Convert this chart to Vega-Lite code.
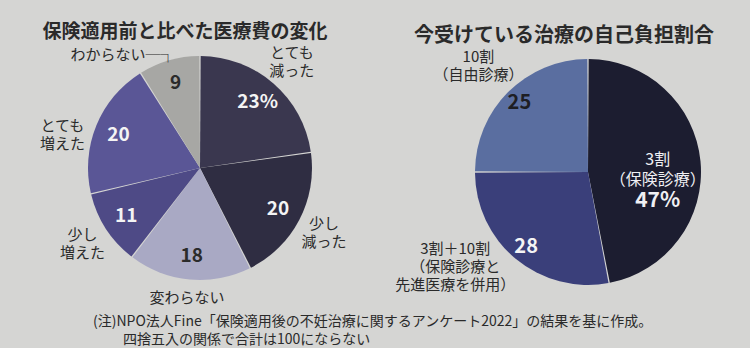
{
  "$schema": "https://vega.github.io/schema/vega-lite/v6.json",
  "background": "#d5d5d3",
  "padding": {"top": 13, "left": 0, "right": 0, "bottom": 0},
  "bounds": "flush",
  "spacing": 26,
  "config": {"view": {"stroke": null}, "font": "Noto Sans CJK JP", "text": {"font": "Noto Sans CJK JP"}},
  "resolve": {"scale": {"color": "independent", "theta": "independent"}},
  "title": {
    "text": ["(注)NPO法人Fine「保険適用後の不妊治療に関するアンケート2022」の結果を基に作成。", "\u2800\u2800\u2800四捨五入の関係で合計は100にならない"],
    "orient": "bottom", "anchor": "start", "dx": 93, "offset": -11,
    "fontSize": 14, "fontWeight": "normal", "color": "#2a2a2a", "lineHeight": 18, "font": "Noto Sans CJK JP"
  },
  "hconcat": [
    {
      "width": 400,
      "height": 220,
      "title": {"text": "保険適用前と比べた医療費の変化", "fontSize": 19, "fontWeight": "bold", "color": "#2a2a2a", "offset": -25, "dx": -15, "font": "Noto Sans CJK JP"},
      "data": {"values": [
        {"cat": "とても減った", "label": "とても\n減った", "v": 23, "i": 1, "num": "23%"},
        {"cat": "少し減った", "label": "少し\n減った", "v": 20, "i": 2, "num": "20"},
        {"cat": "変わらない", "label": "変わらない", "v": 18, "i": 3, "num": "18"},
        {"cat": "少し増えた", "label": "少し\n増えた", "v": 11, "i": 4, "num": "11"},
        {"cat": "とても増えた", "label": "とても\n増えた", "v": 20, "i": 5, "num": "20"},
        {"cat": "わからない", "label": "わからない", "v": 9, "i": 6, "num": "9"}
      ]},
      "encoding": {
        "theta": {"field": "v", "type": "quantitative", "stack": true},
        "order": {"field": "i", "type": "quantitative"}
      },
      "layer": [
        {
          "mark": {"type": "arc", "outerRadius": 112, "padAngle": 0.012},
          "encoding": {
            "color": {"field": "cat", "type": "nominal", "legend": null,
              "scale": {"domain": ["とても減った", "少し減った", "変わらない", "少し増えた", "とても増えた", "わからない"],
                        "range": ["#3a374f", "#2f2d42", "#a9a9c4", "#4e4a86", "#5a5696", "#a7a7a4"]}}
          }
        },
        {
          "mark": {"type": "text", "radius": 88, "fontSize": 19, "fontWeight": "bold"},
          "encoding": {
            "text": {"field": "num", "type": "nominal"},
            "color": {"condition": {"test": "datum.cat === '変わらない' || datum.cat === 'わからない'", "value": "#2b2b2b"}, "value": "#f4f4f4"}
          }
        },
        {
          "mark": {"type": "text", "radius": 140, "dy": -9, "fontSize": 15, "lineBreak": "\n", "lineHeight": 18, "color": "#2a2a2a"},
          "encoding": {
            "text": {"condition": {"test": "datum.cat !== 'わからない' && datum.cat !== 'とても増えた'", "field": "label", "type": "nominal"}, "value": ""}
          }
        },
        {
          "mark": {"type": "text", "radius": 140, "dx": -8, "dy": 11, "fontSize": 15, "lineBreak": "\n", "lineHeight": 18, "color": "#2a2a2a"},
          "encoding": {
            "text": {"condition": {"test": "datum.cat === 'とても増えた'", "field": "label", "type": "nominal"}, "value": ""}
          }
        },
        {
          "mark": {"type": "text", "radius": 118, "fontSize": 15, "align": "right", "dx": 8, "color": "#2a2a2a"},
          "encoding": {
            "text": {"condition": {"test": "datum.cat === 'わからない'", "value": "わからない─┐"}, "value": ""}
          }
        }
      ]
    },
    {
      "width": 324,
      "height": 228,
      "title": {"text": "今受けている治療の自己負担割合", "fontSize": 20, "fontWeight": "bold", "color": "#2a2a2a", "offset": -33, "dx": -24, "font": "Noto Sans CJK JP"},
      "data": {"values": [
        {"cat": "3割", "label": "3割\n（保険診療）", "v": 47, "i": 1, "num": "47%"},
        {"cat": "3割+10割", "label": "3割＋10割\n（保険診療と\n先進医療を併用）", "v": 28, "i": 2, "num": "28"},
        {"cat": "10割", "label": "10割\n（自由診療）", "v": 25, "i": 3, "num": "25"}
      ]},
      "encoding": {
        "theta": {"field": "v", "type": "quantitative", "stack": true},
        "order": {"field": "i", "type": "quantitative"}
      },
      "layer": [
        {
          "mark": {"type": "arc", "outerRadius": 113, "padAngle": 0.012},
          "encoding": {
            "color": {"field": "cat", "type": "nominal", "legend": null,
              "scale": {"domain": ["3割", "3割+10割", "10割"], "range": ["#1c1d30", "#3a3f7a", "#5a6ea0"]}}
          }
        },
        {
          "mark": {"type": "text", "radius": 97, "fontSize": 20, "fontWeight": "bold"},
          "encoding": {
            "text": {"condition": {"test": "datum.cat !== '3割'", "field": "num", "type": "nominal"}, "value": ""},
            "color": {"condition": {"test": "datum.cat === '10割'", "value": "#1e1e24"}, "value": "#f4f4f4"}
          }
        },
        {
          "mark": {"type": "text", "radius": 70, "dy": -5, "fontSize": 16, "lineBreak": "\n", "lineHeight": 20, "color": "#f0f0f4"},
          "encoding": {
            "text": {"condition": {"test": "datum.cat === '3割'", "field": "label", "type": "nominal"}, "value": ""}
          }
        },
        {
          "mark": {"type": "text", "radius": 70, "dy": 36, "fontSize": 21, "fontWeight": "bold", "color": "#f0f0f4"},
          "encoding": {
            "text": {"condition": {"test": "datum.cat === '3割'", "field": "num", "type": "nominal"}, "value": ""}
          }
        },
        {
          "mark": {"type": "text", "radius": 155, "dy": -5, "fontSize": 15, "lineBreak": "\n", "lineHeight": 18, "color": "#2a2a2a"},
          "encoding": {
            "text": {"condition": {"test": "datum.cat === '10割'", "field": "label", "type": "nominal"}, "value": ""}
          }
        },
        {
          "mark": {"type": "text", "radius": 155, "dx": -34, "dy": -42, "fontSize": 15, "lineBreak": "\n", "lineHeight": 18, "color": "#2a2a2a"},
          "encoding": {
            "text": {"condition": {"test": "datum.cat === '3割+10割'", "field": "label", "type": "nominal"}, "value": ""}
          }
        }
      ]
    }
  ]
}
